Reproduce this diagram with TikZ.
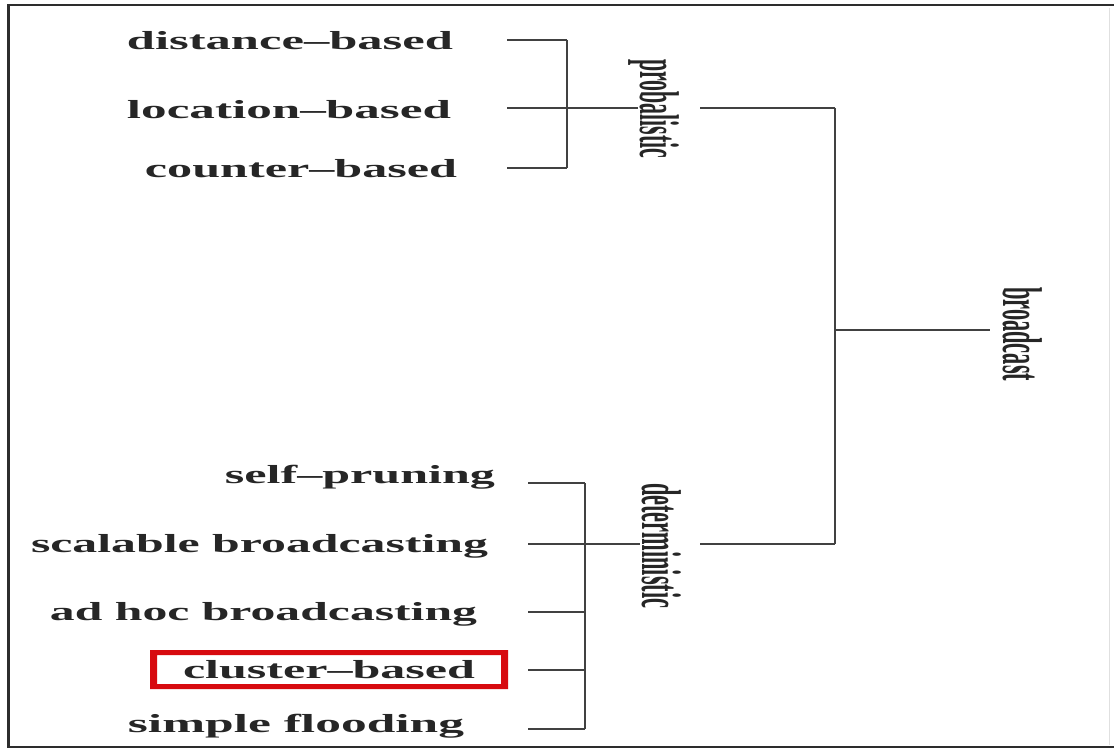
\documentclass[tikz,border=0pt]{standalone}
\usepackage{fontspec}
\setmainfont{Liberation Serif}
\usepackage{graphicx}
\newcommand{\fitw}[2]{\resizebox{#1pt}{\height}{#2}}
\definecolor{boxred}{RGB}{215,10,15}
\definecolor{linegray}{RGB}{65,65,65}
\definecolor{framegray}{RGB}{45,45,45}
\begin{document}
\begin{tikzpicture}[x=1pt,y=-1pt,
  lbl/.style={inner sep=0pt, anchor=base, font=\fontsize{26}{30}\selectfont\bfseries, text=black!85},
  vlbl/.style={inner sep=0pt, anchor=base west, rotate=-90, font=\fontsize{56}{60}\selectfont\bfseries, text=black!85},
  conn/.style={draw=linegray, line width=1.5pt},
  vconn/.style={draw=linegray, line width=2pt},
  frameline/.style={draw=framegray, line width=2.8pt}]
\useasboundingbox (0,0) rectangle (1114,749);
\fill[white] (0,0) rectangle (1114,749);
% frame
\coordinate (f1) at (1114,5);
\coordinate (f2) at (8.5,5);
\coordinate (f3) at (8.5,747);
\coordinate (f4) at (1114,747);
\draw[frameline] (f1) -- (f2) -- (f3) -- (f4);
\coordinate (fr1) at (1109,8);
\coordinate (fr2) at (1109,745);
\draw[draw=black!12, line width=0.8pt] (fr1) -- (fr2);
% red box
\coordinate (rb1) at (150,650);
\coordinate (rb2) at (508,689);
\coordinate (rb3) at (157,655);
\coordinate (rb4) at (501,684);
\fill[boxred, even odd rule] (rb1) rectangle (rb2) (rb3) rectangle (rb4);
% left labels
\node[lbl] (dist) at (290,50) {\fitw{326}{distance–based}};
\node[lbl] (loc) at (289,118) {\fitw{324}{location–based}};
\node[lbl] (cnt) at (301,177) {\fitw{312}{counter–based}};
\node[lbl] (self) at (360,483) {\fitw{270}{self–pruning}};
\node[lbl] (scal) at (259.5,552) {\fitw{457}{scalable broadcasting}};
\node[lbl] (adhoc) at (263.5,620) {\fitw{427}{ad hoc broadcasting}};
\node[lbl] (clus) at (329,678) {\fitw{292}{cluster–based}};
\node[lbl] (simp) at (296,732) {\fitw{336}{simple flooding}};
% rotated labels
\node[vlbl] (prob) at (640,59) {\fitw{99}{probalistic}};
\node[vlbl] (det) at (642,483) {\fitw{125}{deterministic}};
\node[vlbl] (bc) at (1003,287) {\fitw{94}{broadcast}};
% probalistic bracket
\coordinate (pa) at (507,40);
\coordinate (pb) at (507,108);
\coordinate (pc) at (507,168);
\coordinate (pv1) at (567,40);
\coordinate (pv3) at (567,168);
\coordinate (pm) at (638,108);
\coordinate (po) at (700,108);
\draw[conn] (pa) -- (pv1);
\draw[conn] (pc) -- (pv3);
\draw[vconn] (pv1) -- (pv3);
\draw[conn] (pb) -- (pm);
% broadcast bracket
\coordinate (bt) at (835,108);
\coordinate (bb) at (835,544);
\coordinate (bm) at (835,330);
\coordinate (bo) at (990,330);
\coordinate (dox) at (700,544);
\draw[conn] (po) -- (bt);
\draw[conn] (dox) -- (bb);
\draw[vconn] (bt) -- (bb);
\draw[conn] (bm) -- (bo);
% deterministic bracket
\coordinate (da) at (528,483);
\coordinate (db) at (528,544);
\coordinate (dc) at (528,612);
\coordinate (dd) at (528,670);
\coordinate (de) at (528,729);
\coordinate (dv1) at (585,483);
\coordinate (dv3) at (585,612);
\coordinate (dv4) at (585,670);
\coordinate (dv5) at (585,729);
\coordinate (dm) at (640,544);
\draw[conn] (da) -- (dv1);
\draw[conn] (db) -- (dm);
\draw[conn] (dc) -- (dv3);
\draw[conn] (dd) -- (dv4);
\draw[conn] (de) -- (dv5);
\draw[vconn] (dv1) -- (dv5);
\end{tikzpicture}
\end{document}
